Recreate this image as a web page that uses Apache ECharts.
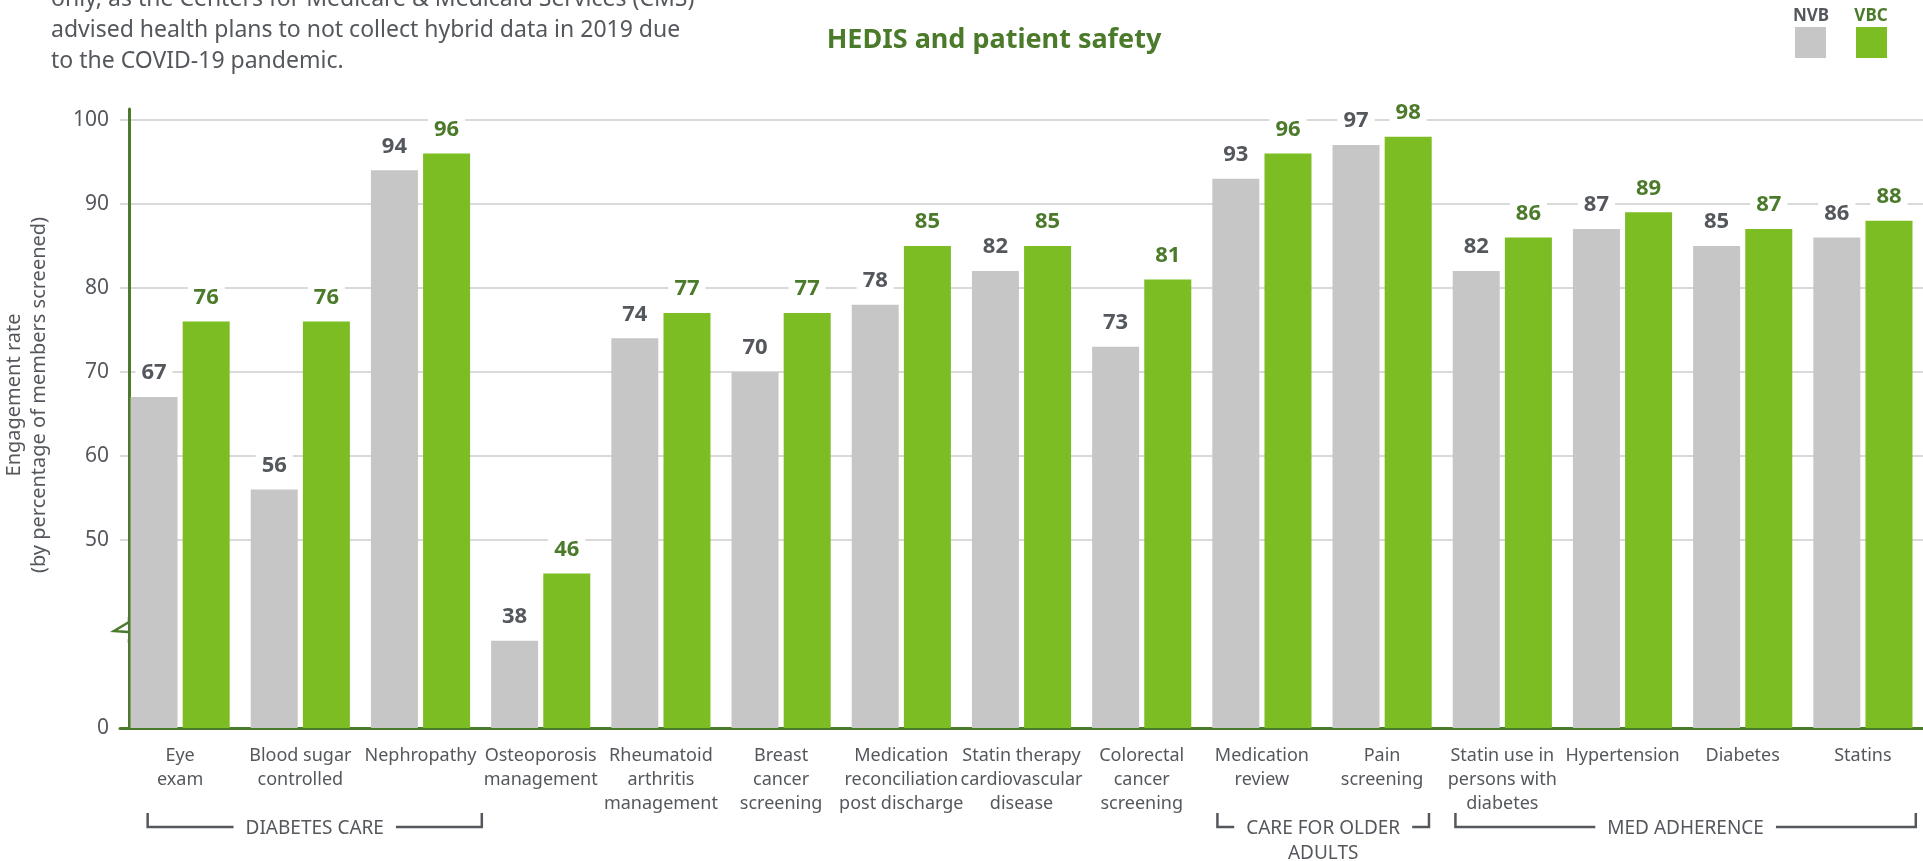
<!DOCTYPE html>
<html>
<head>
<meta charset="utf-8">
<script src="https://cdn.jsdelivr.net/npm/echarts@6.0.0/dist/echarts.min.js"></script>
<style>
  html, body { margin: 0; padding: 0; background: #fff; }
  #chart { width: 1923px; height: 861px; }
</style>
</head>
<body>
<div id="chart"></div>
<script>
const categories = ['Eye\nexam', 'Blood sugar\ncontrolled', 'Nephropathy', 'Osteoporosis\nmanagement',
  'Rheumatoid\narthritis\nmanagement', 'Breast\ncancer\nscreening', 'Medication\nreconciliation\npost discharge',
  'Statin therapy\ncardiovascular\ndisease', 'Colorectal\ncancer\nscreening', 'Medication\nreview',
  'Pain\nscreening', 'Statin use in\npersons with\ndiabetes', 'Hypertension', 'Diabetes', 'Statins'];
const nvb = [67, 56, 94, 38, 74, 70, 78, 82, 73, 93, 97, 82, 87, 85, 86];
const vbc = [76, 76, 96, 46, 77, 77, 85, 85, 81, 96, 98, 86, 89, 87, 88];
const yTicks = [50, 60, 70, 80, 90, 100];
const groupNames = ['DIABETES CARE', 'CARE FOR OLDER\nADULTS', 'MED ADHERENCE'];
const groupFirst = [0, 9, 11];
const groupLast = [2, 10, 14];

// broken axis: the baseline stands for 0, the scale below 50 is cut away
const AXIS_FLOOR = 27.6;
const FONT = '"Noto Sans", sans-serif';
const GRAY = '#c6c6c6', GREEN = '#7bbd22', DARK_GREEN = '#4b7a2b', TXT = '#54585d';
const bracketPad = [[-0.27, 0.51], [-0.37, 0.39], [-0.39, 0.44]]; // in band widths

const chart = echarts.init(document.getElementById('chart'));

const barLabel = (color) => ({
  show: true, position: 'top', distance: 12,
  color, fontWeight: 'bold', fontSize: 22, fontFamily: FONT,
  backgroundColor: '#fff', padding: [1, 6],
});

chart.setOption({
  animation: false,
  grid: { left: 120, right: 0, top: 109, bottom: 133 },
  xAxis: {
    type: 'category', data: categories,
    axisLine: { lineStyle: { color: DARK_GREEN, width: 3 } },
    axisTick: { show: false },
    axisLabel: { interval: 0, color: TXT, fontSize: 18, lineHeight: 24, fontFamily: FONT, margin: 16 },
  },
  yAxis: {
    type: 'value', min: AXIS_FLOOR, max: 101.3, offset: -9,
    axisLine: { show: true, lineStyle: { color: DARK_GREEN, width: 3 } },
    axisTick: { show: false, customValues: yTicks },
    axisLabel: {
      customValues: [AXIS_FLOOR].concat(yTicks),
      formatter: v => (v < 40 ? '0' : String(v)),
      color: TXT, fontSize: 21, fontFamily: FONT, margin: 20,
    },
    splitLine: { show: true, lineStyle: { color: '#cccccc', width: 1.5 } },
  },
  series: [
    { name: 'NVB', type: 'bar', data: nvb, barWidth: 47, barGap: '11%',
      itemStyle: { color: GRAY }, label: barLabel(TXT) },
    { name: 'VBC', type: 'bar', data: vbc, barWidth: 47,
      itemStyle: { color: GREEN }, label: barLabel(DARK_GREEN) },
  ],
});

// decorations placed from the axes
const cx = i => chart.convertToPixel({ xAxisIndex: 0 }, i);
const band = cx(1) - cx(0);
const yAxisX = 129;
const graphics = [
  { type: 'text', left: 51, top: -16, style: {
      text: 'only, as the Centers for Medicare & Medicaid Services (CMS)\nadvised health plans to not collect hybrid data in 2019 due\nto the COVID-19 pandemic.',
      fill: TXT, font: '23px ' + FONT, lineHeight: 31 } },
  { type: 'text', x: 994, y: 40, style: {
      text: 'HEDIS and patient safety', fill: DARK_GREEN, font: 'bold 27px ' + FONT,
      align: 'center', verticalAlign: 'middle' } },
  { type: 'text', x: 27, y: 395, rotation: Math.PI / 2, style: {
      text: 'Engagement rate\n(by percentage of members screened)', fill: TXT, font: '20px ' + FONT,
      lineHeight: 25, align: 'center', verticalAlign: 'middle' } },
  // legend
  { type: 'rect', shape: { x: 1795, y: 27, width: 31, height: 31 }, style: { fill: GRAY } },
  { type: 'rect', shape: { x: 1856, y: 27, width: 31, height: 31 }, style: { fill: GREEN } },
  { type: 'text', x: 1811, y: 16, style: { text: 'NVB', fill: TXT, font: 'bold 17px ' + FONT, align: 'center', verticalAlign: 'middle' } },
  { type: 'text', x: 1871, y: 16, style: { text: 'VBC', fill: DARK_GREEN, font: 'bold 17px ' + FONT, align: 'center', verticalAlign: 'middle' } },
  // axis break mark
  { type: 'rect', shape: { x: yAxisX - 3, y: 619, width: 6, height: 21 }, style: { fill: '#fff' } },
  { type: 'polyline', shape: { points: [[yAxisX, 617], [yAxisX, 622], [114, 631], [142, 633], [yAxisX, 640], [yAxisX, 643]] },
    style: { stroke: DARK_GREEN, lineWidth: 2.5, fill: null } },
  // hide the bit of x axis line left of the y axis
  { type: 'rect', shape: { x: 118, y: 725, width: yAxisX - 119, height: 7 }, style: { fill: '#fff' } },
];

groupNames.forEach((name, g) => {
  const xL = cx(groupFirst[g]) + bracketPad[g][0] * band;
  const xR = cx(groupLast[g]) + bracketPad[g][1] * band;
  graphics.push({ type: 'polyline', shape: { points: [[xL, 813], [xL, 827], [xR, 827], [xR, 813]] },
    style: { stroke: TXT, lineWidth: 2.5, fill: null } });
  graphics.push({ type: 'text', x: (xL + xR) / 2, y: 816, style: {
    text: name, fill: TXT, font: '19px ' + FONT, lineHeight: 25, align: 'center', verticalAlign: 'top',
    backgroundColor: '#fff', padding: [0, 12] } });
});

chart.setOption({ graphic: graphics });
</script>
</body>
</html>
